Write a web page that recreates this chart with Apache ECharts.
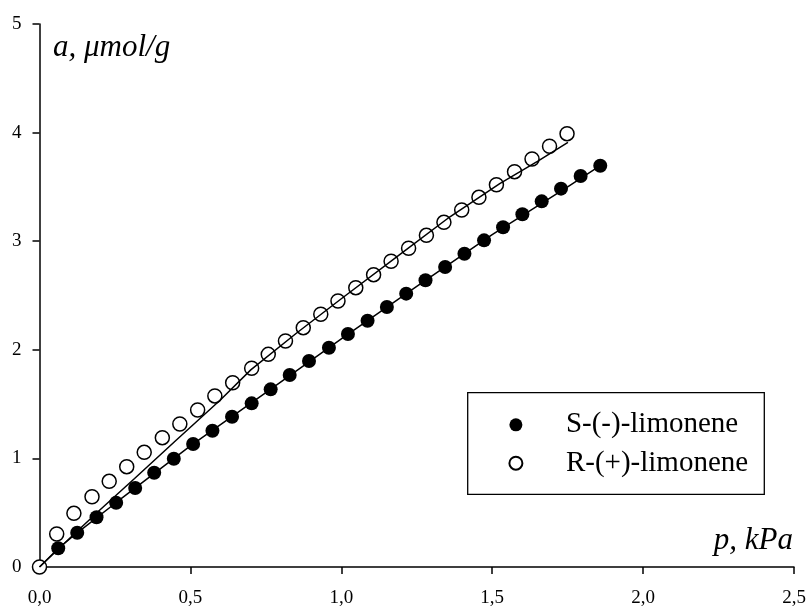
<!DOCTYPE html>
<html>
<head>
<meta charset="utf-8">
<script src="https://cdn.jsdelivr.net/npm/echarts@6/dist/echarts.min.js"></script>
<style>html,body{margin:0;padding:0;background:#fff;}#c{width:809px;height:608px;}</style>
</head>
<body>
<div id="c"></div>
<script>
// Tick labels
var xTicks = [0, 0.5, 1.0, 1.5, 2.0, 2.5];
var yTicks = [0, 1, 2, 3, 4, 5];

// S-(-)-limonene (filled circles)
var sX = [0.062,0.125,0.189,0.254,0.317,0.380,0.445,0.509,0.573,0.638,0.703,0.766,0.829,0.893,0.959,1.022,1.087,1.151,1.215,1.279,1.344,1.408,1.473,1.536,1.600,1.664,1.728,1.793,1.858];
var sY = [0.172,0.316,0.458,0.592,0.727,0.868,0.997,1.133,1.255,1.384,1.507,1.636,1.768,1.897,2.019,2.145,2.268,2.394,2.517,2.640,2.762,2.885,3.008,3.128,3.248,3.367,3.484,3.600,3.695];

// R-(+)-limonene (open circles)
var rX = [0,0.057,0.114,0.174,0.231,0.289,0.347,0.407,0.465,0.524,0.581,0.640,0.703,0.758,0.815,0.874,0.932,0.989,1.048,1.107,1.165,1.223,1.282,1.340,1.399,1.456,1.514,1.574,1.632,1.690,1.748];
var rY = [0,0.304,0.494,0.647,0.789,0.924,1.056,1.191,1.317,1.446,1.575,1.697,1.830,1.958,2.081,2.204,2.327,2.449,2.572,2.692,2.815,2.935,3.054,3.174,3.287,3.404,3.520,3.640,3.757,3.874,3.990];

// Fitted curves
var fitSX = [0,0.062,0.125,0.25,0.5,0.75,1.0,1.25,1.5,1.75,1.858];
var fitSY = [0,0.17,0.315,0.585,1.115,1.605,2.10,2.585,3.06,3.50,3.695];
var fitRX = [0,0.1,0.2,0.315,0.45,0.6,0.7,0.85,1.0,1.2,1.36,1.525,1.65,1.751];
var fitRY = [0,0.265,0.525,0.815,1.16,1.54,1.815,2.15,2.47,2.89,3.225,3.53,3.735,3.911];

var seriesNames = ['S-(-)-limonene', 'R-(+)-limonene'];
var xTitle = 'p, kPa';
var yTitle = 'a, \u03BCmol/g';

function zip(a, b) { return a.map(function (v, i) { return [v, b[i]]; }); }

var FONT = 'Liberation Serif';
var chart = echarts.init(document.getElementById('c'), null, {renderer: 'canvas'});
chart.setOption({
  animation: false,
  backgroundColor: '#fff',
  grid: {left: 39.5, right: 15, top: 24, bottom: 41, containLabel: false},
  xAxis: {
    type: 'value', min: xTicks[0], max: xTicks[xTicks.length - 1], interval: 0.5,
    axisLine: {lineStyle: {color: '#000', width: 1.5}},
    axisTick: {inside: false, length: 7, lineStyle: {color: '#000', width: 1.5}},
    axisLabel: {margin: 22, color: '#000', fontFamily: FONT, fontSize: 19,
      formatter: function (v) { return v.toFixed(1).replace('.', ','); }},
    splitLine: {show: false}
  },
  yAxis: {
    type: 'value', min: yTicks[0], max: yTicks[yTicks.length - 1], interval: 1,
    axisLine: {lineStyle: {color: '#000', width: 1.5}},
    axisTick: {inside: false, length: 7, lineStyle: {color: '#000', width: 1.5}},
    axisLabel: {margin: 18, color: '#000', fontFamily: FONT, fontSize: 19,
      formatter: function (v) { return String(Math.round(v)); }},
    splitLine: {show: false}
  },
  legend: {
    orient: 'vertical', left: 508.4, top: 410.3, padding: 0,
    itemWidth: 90, itemHeight: 13, itemGap: 9.4,
    data: seriesNames,
    textStyle: {fontFamily: FONT, fontSize: 29, color: '#000', lineHeight: 28}
  },
  graphic: [
    {type: 'rect', shape: {x: 467.7, y: 392.7, width: 296.6, height: 101.6},
     style: {fill: 'none', stroke: '#000', lineWidth: 1.3}, z: 1},
    {type: 'text', left: 53, top: 32.5, style: {text: yTitle, font: 'italic 31px "Liberation Serif"', fill: '#000'}},
    {type: 'text', right: 16, top: 525.5, style: {text: xTitle, font: 'italic 31px "Liberation Serif"', fill: '#000'}}
  ],
  series: [
    {name: seriesNames[0], type: 'scatter', data: zip(sX, sY), symbol: 'circle', symbolSize: 14,
     itemStyle: {color: '#000', opacity: 1}, z: 3},
    {name: seriesNames[1], type: 'scatter', data: zip(rX, rY), symbol: 'circle', symbolSize: 14,
     itemStyle: {color: '#fff', borderColor: '#000', borderWidth: 1.5, opacity: 1}, z: 4},
    {type: 'line', data: zip(fitSX, fitSY), symbol: 'none', smooth: false,
     lineStyle: {color: '#000', width: 1.5}, z: 5, silent: true},
    {type: 'line', data: zip(fitRX, fitRY), symbol: 'none', smooth: false,
     lineStyle: {color: '#000', width: 1.5}, z: 5, silent: true}
  ]
});
</script>
</body>
</html>
